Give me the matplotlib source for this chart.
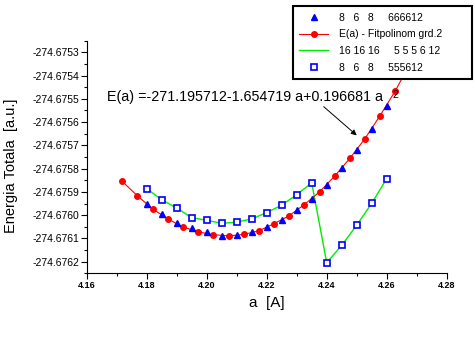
import matplotlib
matplotlib.use('Agg')
import matplotlib.pyplot as plt
from matplotlib.ticker import FixedLocator, FixedFormatter, MultipleLocator, FormatStrFormatter

plt.rcParams['font.family'] = ['Liberation Sans', 'DejaVu Sans']

# blue triangles: 8 6 8  666612
tri_a = [4.180, 4.185, 4.190, 4.195, 4.200, 4.205, 4.210, 4.215, 4.220,
         4.225, 4.230, 4.235, 4.240, 4.245, 4.250, 4.255, 4.260]
tri_e = [-274.675950, -274.675997, -274.676032, -274.676057, -274.676074,
         -274.676090, -274.676087, -274.676073, -274.676053, -274.676019,
         -274.675979, -274.675929, -274.675869, -274.675799, -274.675720,
         -274.675630, -274.675531]

# red fit polynomial points
fit_a = [4.1717, 4.1769, 4.1820, 4.1870, 4.1920, 4.1970, 4.2020, 4.2073,
         4.2123, 4.2174, 4.2224, 4.2274, 4.2324, 4.2376, 4.2428, 4.2477,
         4.2527, 4.2577, 4.2628, 4.2679]
fit_e = [-274.675853, -274.675917, -274.675973, -274.676016, -274.676050,
         -274.676071, -274.676084, -274.676089, -274.676083, -274.676067,
         -274.676037, -274.676003, -274.675956, -274.675900, -274.675830,
         -274.675756, -274.675672, -274.675574, -274.675467, -274.675346]

# squares / green line: 555612
sq_a = [4.180, 4.185, 4.190, 4.195, 4.200, 4.205, 4.210, 4.215, 4.220,
        4.225, 4.230, 4.235, 4.240, 4.245, 4.250, 4.255, 4.260]
sq_e = [-274.675886, -274.675934, -274.675969, -274.676011, -274.676022,
        -274.676035, -274.676030, -274.676016, -274.675989, -274.675957,
        -274.675912, -274.675861, -274.676204, -274.676130, -274.676043,
        -274.675949, -274.675843]

y_ticks = [-274.6753, -274.6754, -274.6755, -274.6756, -274.6757,
           -274.6758, -274.6759, -274.6760, -274.6761, -274.6762]
y_ticklabels = ['-274.6753', '-274.6754', '-274.6755', '-274.6756', '-274.6757',
                '-274.6758', '-274.6759', '-274.6760', '-274.6761', '-274.6762']
y_minor = [-274.67525, -274.67535, -274.67545, -274.67555, -274.67565,
           -274.67575, -274.67585, -274.67595, -274.67605, -274.67615,
           -274.67625]

labels = ['8   6   8     666612', 'E(a) - Fitpolinom grd.2',
          '16 16 16     5 5 5 6 12', '8   6   8     555612']

fig = plt.figure(figsize=(4.75, 3.5), dpi=100)
ax = fig.add_axes([0.1825, 0.219, 0.758, 0.665])

blue = '#0000ff'
l1, = ax.plot(tri_a, tri_e, linestyle='None', marker='^', color=blue,
              markersize=4.5, zorder=4)
l2, = ax.plot(fit_a, fit_e, color='red', linewidth=0.8, marker='o',
              markersize=4, zorder=3)
l3, = ax.plot(sq_a, sq_e, color='#00ee00', linewidth=1.0, zorder=2)
l4, = ax.plot(sq_a, sq_e, linestyle='None', marker='s', markersize=5,
              markerfacecolor='white', markeredgecolor=blue,
              markeredgewidth=1.2, zorder=5)

ax.set_xlim(4.16, 4.28)
ax.set_ylim(-274.67625, -274.67525)
ax.xaxis.set_major_locator(MultipleLocator(0.02))
ax.xaxis.set_minor_locator(MultipleLocator(0.01))
ax.xaxis.set_major_formatter(FormatStrFormatter('%.2f'))
ax.yaxis.set_major_locator(FixedLocator(y_ticks))
ax.yaxis.set_major_formatter(FixedFormatter(y_ticklabels))
ax.yaxis.set_minor_locator(FixedLocator(y_minor))
ax.tick_params(which='major', direction='out', length=4, width=0.8,
               labelsize=7.5, pad=1.5)
ax.tick_params(which='minor', direction='out', length=2, width=0.8)
for t in ax.get_xticklabels():
    t.set_fontweight('bold')
    t.set_fontsize(6.5)
ax.spines['top'].set_visible(False)
ax.spines['right'].set_visible(False)

ax.set_xlabel('a  [A]', fontsize=11, labelpad=4)
ax.set_ylabel('Energia Totala  [a.u.]', fontsize=10.5)
ax.yaxis.set_label_coords(-0.19, 0.46)

ax.text(4.1668, -274.675492, 'E(a) =-271.195712-1.654719 a+0.196681 a',
        fontsize=10.3, va='center', ha='left')
ax.text(4.2618, -274.675485, '2', fontsize=7.5, va='center', ha='left')
ax.annotate('', xy=(4.2507, -274.675665), xytext=(4.2383, -274.675526),
            arrowprops=dict(arrowstyle='-|>', color='black', lw=0.7,
                            mutation_scale=8))

leg = fig.legend([l1, l2, l3, l4], labels, loc='lower left',
                 bbox_to_anchor=(0.617, 0.774, 0.377, 0.211), mode='expand',
                 fontsize=7.5, numpoints=1, handlelength=2.8,
                 handletextpad=1.0, labelspacing=0.65, borderpad=0.6,
                 borderaxespad=0.0, fancybox=False, framealpha=1,
                 edgecolor='black')
leg.get_frame().set_linewidth(1.5)
leg.set_zorder(10)

fig.savefig('out.png', dpi=100)
